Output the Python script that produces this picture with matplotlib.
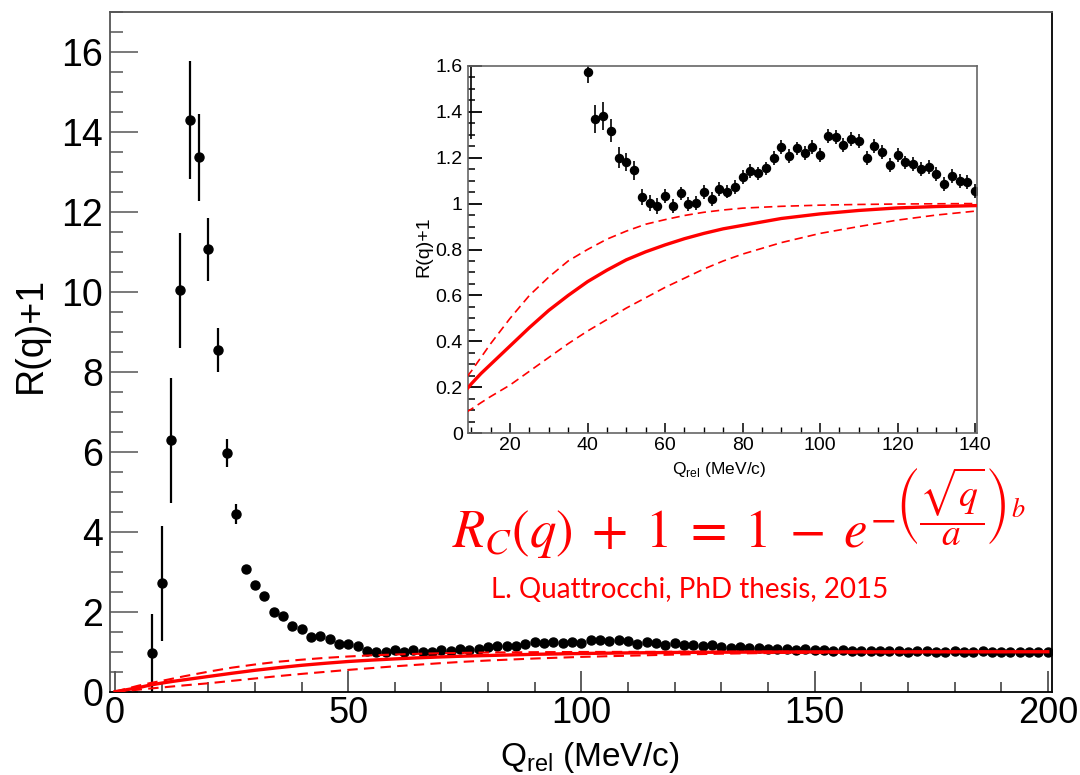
import matplotlib
matplotlib.use("Agg")
import matplotlib.pyplot as plt
from matplotlib.ticker import MultipleLocator, FuncFormatter

plt.rcParams["font.family"] = ["Liberation Sans", "DejaVu Sans"]
plt.rcParams["mathtext.fontset"] = "custom"
plt.rcParams["mathtext.rm"] = "Liberation Sans"

# correlation data, bin centres in MeV/c
q = [8, 10, 12, 14, 16, 18, 20, 22, 24, 26, 28, 30, 32, 34, 36, 38,
     40, 42, 44, 46, 48, 50, 52, 54, 56, 58, 60, 62, 64, 66, 68, 70,
     72, 74, 76, 78, 80, 82, 84, 86, 88, 90, 92, 94, 96, 98, 100, 102,
     104, 106, 108, 110, 112, 114, 116, 118, 120, 122, 124, 126, 128, 130,
     132, 134, 136, 138, 140, 142, 144, 146, 148, 150, 152, 154, 156, 158,
     160, 162, 164, 166, 168, 170, 172, 174, 176, 178, 180, 182, 184, 186,
     188, 190, 192, 194, 196, 198, 200]
r = [0.96, 2.71, 6.29, 10.04, 14.29, 13.36, 11.06, 8.54, 5.98, 4.44, 3.06,
     2.68, 2.40, 2.00, 1.89, 1.65,
     1.571, 1.369, 1.381, 1.317, 1.199, 1.182, 1.144, 1.030, 1.001, 0.991,
     1.033, 0.991, 1.044, 0.998, 1.001, 1.049, 1.020, 1.065, 1.052, 1.073,
     1.117, 1.143, 1.131, 1.153, 1.198, 1.247, 1.207, 1.240, 1.221, 1.247,
     1.212, 1.294, 1.289, 1.256, 1.281, 1.272, 1.197, 1.252, 1.223, 1.169,
     1.211, 1.179, 1.172, 1.149, 1.159, 1.128, 1.086, 1.120, 1.098, 1.095,
     1.056, 1.08, 1.07, 1.05, 1.06, 1.04, 1.05, 1.03, 1.04, 1.02, 1.03,
     1.02, 1.03, 1.01, 1.02, 1.00, 1.02, 1.01, 0.99, 1.00, 1.01, 0.99,
     1.00, 1.01, 0.99, 1.00, 0.99, 1.00, 0.99, 0.99, 1.00]
err = [0.98, 1.43, 1.56, 1.44, 1.47, 1.09, 0.78, 0.55, 0.35, 0.25, 0.12,
       0.10, 0.08, 0.07, 0.06, 0.05,
       0.047, 0.06, 0.06, 0.05, 0.045, 0.04, 0.04, 0.035, 0.035, 0.035,
       0.03, 0.03, 0.03, 0.03, 0.03, 0.03, 0.03, 0.03, 0.03, 0.03,
       0.03, 0.03, 0.03, 0.03, 0.03, 0.03, 0.03, 0.03, 0.03, 0.03,
       0.03, 0.03, 0.03, 0.03, 0.03, 0.03, 0.03, 0.03, 0.03, 0.03,
       0.03, 0.03, 0.03, 0.03, 0.03, 0.03, 0.03, 0.03, 0.03, 0.03,
       0.03, 0.03, 0.03, 0.03, 0.03, 0.03, 0.03, 0.03, 0.03, 0.03, 0.03,
       0.03, 0.03, 0.03, 0.03, 0.03, 0.03, 0.03, 0.03, 0.03, 0.03, 0.03,
       0.03, 0.03, 0.03, 0.03, 0.03, 0.03, 0.03, 0.03, 0.03]

# Coulomb curve (central and band edges)
qf = [0, 2, 5, 7.5, 10, 12.5, 15, 17.5, 20, 25, 30, 35, 40, 45, 50, 55,
      60, 65, 70, 75, 80, 90, 100, 110, 120, 130, 140, 160, 180, 200]
fit_c = [0, 0.04, 0.10, 0.165, 0.215, 0.26, 0.30, 0.34, 0.38, 0.46, 0.535,
         0.60, 0.66, 0.71, 0.755, 0.79, 0.82, 0.847, 0.87, 0.89, 0.905,
         0.935, 0.955, 0.970, 0.981, 0.987, 0.991, 0.996, 0.998, 0.999]
fit_hi = [0, 0.06, 0.15, 0.215, 0.27, 0.33, 0.39, 0.445, 0.50, 0.60, 0.68,
          0.75, 0.80, 0.845, 0.88, 0.91, 0.93, 0.948, 0.962, 0.972, 0.98,
          0.988, 0.993, 0.996, 0.998, 0.999, 1.0, 1.0, 1.0, 1.0]
fit_lo = [0, 0.02, 0.05, 0.08, 0.105, 0.133, 0.16, 0.185, 0.21, 0.27, 0.33,
          0.39, 0.445, 0.495, 0.545, 0.59, 0.635, 0.675, 0.715, 0.75, 0.78,
          0.83, 0.87, 0.90, 0.928, 0.95, 0.967, 0.98, 0.988, 0.993]

W, H = 1080, 775
fig = plt.figure(figsize=(W / 100, H / 100), dpi=100)


def px_axes(x0, y0, x1, y1):
    # pixel box (top-left origin) -> figure fractions
    return fig.add_axes([x0 / W, 1 - y1 / H, (x1 - x0) / W, (y1 - y0) / H])


def draw(ax, ms, elw, lw_c, lw_d):
    ax.errorbar(q, r, yerr=err, fmt="o", color="black", ms=ms,
                elinewidth=elw, capsize=0, zorder=2)
    ax.plot(qf, fit_c, color="red", lw=lw_c, zorder=3)
    for f in (fit_hi, fit_lo):
        ax.plot(qf, f, color="red", lw=lw_d, dashes=(5, 3), zorder=3)


# main panel
ax = px_axes(110, 11.7, 1052, 691.7)
draw(ax, 6.5, 1.6, 2.4, 1.5)
ax.set_xlim(-1.07, 200.9)
ax.set_ylim(0, 17)
ax.xaxis.set_major_locator(MultipleLocator(50))
ax.xaxis.set_minor_locator(MultipleLocator(10))
ax.yaxis.set_major_locator(MultipleLocator(2))
ax.yaxis.set_minor_locator(MultipleLocator(0.5))
ax.tick_params(axis="y", which="major", direction="in", length=20, width=1.1,
               color="#555555", labelsize=27, pad=5)
ax.tick_params(axis="y", which="minor", direction="in", length=9.5, width=1.1,
               color="#555555")
ax.tick_params(axis="x", which="major", direction="in", length=15, width=1.1,
               color="#333333", labelsize=26, pad=3)
ax.tick_params(axis="x", which="minor", direction="in", length=7, width=1.1,
               color="#333333")
for s in ax.spines.values():
    s.set_color("#555555")
    s.set_linewidth(1.3)
ax.spines["bottom"].set_color("black")
ax.spines["right"].set_color("black")
fig.text(31 / W, 1 - 335 / H, "R(q)+1", rotation=90, fontsize=27,
         ha="center", va="center")
fig.text(590 / W, 1 - 766 / H, r"Q$_\mathregular{rel}$ (MeV/c)", fontsize=24,
         ha="center", va="baseline")

# inset
axi = px_axes(468.3, 65.7, 976.7, 433.3)
draw(axi, 5.8, 1.2, 2.4, 1.2)
axi.set_xlim(9.24, 140.4)
axi.set_ylim(0, 1.6)
axi.xaxis.set_major_locator(MultipleLocator(20))
axi.xaxis.set_minor_locator(MultipleLocator(5))
axi.yaxis.set_major_locator(MultipleLocator(0.2))
axi.yaxis.set_minor_locator(MultipleLocator(0.05))
axi.yaxis.set_major_formatter(FuncFormatter(lambda v, _: f"{v:g}"))
axi.tick_params(axis="y", which="major", direction="in", length=10, width=1.3,
                color="black", labelsize=14, pad=4)
axi.tick_params(axis="y", which="minor", direction="in", length=5, width=1.1,
                color="black")
axi.tick_params(axis="x", which="major", direction="in", length=7, width=1.1,
                color="black", labelsize=14, pad=3)
axi.tick_params(axis="x", which="minor", direction="in", length=4, width=1.0,
                color="black")
for s in axi.spines.values():
    s.set_color("#666666")
    s.set_linewidth(1.2)
fig.text(424 / W, 1 - 247 / H, "R(q)+1", rotation=90, fontsize=14,
         ha="center", va="center")
fig.text(719 / W, 1 - 474 / H, r"Q$_\mathregular{rel}$ (MeV/c)", fontsize=12.5,
         ha="center", va="baseline")

# annotation: base of the formula, then its exponent right after the "e"
base = fig.text(452 / W, 1 - 546.7 / H,
                r"$R_C(q)\;+\;1\;=\;1\;-\;e$",
                color="red", fontsize=38, math_fontfamily="stix",
                ha="left", va="baseline")
bb = base.get_window_extent(fig.canvas.get_renderer())
fig.text((bb.x1 + 2) / W, 1 - 531 / H,
         r"$-\left(\dfrac{\sqrt{q}}{a}\right)^b$",
         color="red", fontsize=27, math_fontfamily="stix",
         ha="left", va="baseline")
fig.text(690 / W, 1 - 598 / H, "L. Quattrocchi, PhD thesis, 2015",
         color="red", fontsize=20, family=["Lato", "DejaVu Sans"],
         ha="center", va="baseline")

fig.savefig("out.png", dpi=100)
